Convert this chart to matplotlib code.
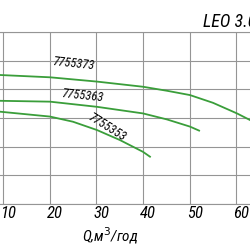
import matplotlib
matplotlib.use("Agg")
import matplotlib.pyplot as plt
from matplotlib import font_manager
from matplotlib.transforms import ScaledTranslation

# pump curves, Q (m3/h) vs head in grid units
q_373 = [8.0, 9.36, 20.06, 30.13, 39.98, 45.12, 50.04, 54.97, 60.11, 62.89, 65.0]
h_373 = [4.52, 4.50, 4.42, 4.27, 4.09, 3.95, 3.80, 3.53, 3.16, 2.93, 2.74]
q_363 = [8.0, 9.36, 20.06, 30.13, 39.98, 45.12, 50.04, 52.0]
h_363 = [3.61, 3.60, 3.57, 3.39, 3.16, 2.95, 2.70, 2.56]
q_353 = [8.0, 9.36, 20.06, 24.99, 30.13, 35.05, 39.98, 41.48]
h_353 = [3.24, 3.22, 3.05, 2.87, 2.58, 2.23, 1.82, 1.65]

x_ticks = [10, 20, 30, 40, 50, 60]
labels = ['7755373', '7755363', '7755353']

# narrow font if one is installed, else DejaVu
fonts = font_manager.fontManager.ttflist
font, narrow = 'DejaVu Sans', False
for f in fonts:
    if f.name in ('Liberation Sans Narrow', 'Roboto Condensed', 'Open Sans Condensed',
                  'Noto Sans Condensed'):
        font, narrow = f.name, True
        break

fs = 12 if narrow else 10
green = '#3a9e3a'

fig = plt.figure(figsize=(2.5, 2.5), dpi=100)
ax = fig.add_axes([0, 0.184, 1, 0.688])

for q, h in [(q_373, h_373), (q_363, h_363), (q_353, h_353)]:
    ax.plot(q, h, color=green, lw=1.3)

ax.set_xlim(9.36, 62.9)
ax.set_ylim(0, 6)
ax.set_xticks(x_ticks)
ax.set_yticks(range(0, 7))
ax.grid(True, color='#959595', lw=0.8)
ax.tick_params(length=0, labelleft=False, pad=1.5)
for s in ['left', 'right']:
    ax.spines[s].set_visible(False)
for s in ['top', 'bottom']:
    ax.spines[s].set_color('#959595')
    ax.spines[s].set_linewidth(0.8)

for lab in ax.get_xticklabels():
    lab.set_fontfamily(font)
    lab.set_fontstyle('italic')
    lab.set_fontsize(fs)
    lab.set_transform(lab.get_transform() + ScaledTranslation(0.05, 0, fig.dpi_scale_trans))

kw = dict(fontfamily=font, style='italic', fontsize=fs - 3, ha='center', va='center')
ax.text(25.0, 4.90, labels[0], rotation=-6, **kw)
ax.text(27.0, 3.79, labels[1], rotation=-6, **kw)
ax.text(32.3, 2.68, labels[2], rotation=-32, **kw)

fig.text(0.44, 0.032, 'Q,м$^3$/год', fontfamily=font, style='italic',
         fontsize=fs - 1, ha='center', va='baseline')
fig.text(0.812, 0.892, 'LEO 3.0', fontfamily=font, style='italic',
         fontsize=fs + 1, ha='left', va='baseline')

fig.savefig('out.png', dpi=100)
